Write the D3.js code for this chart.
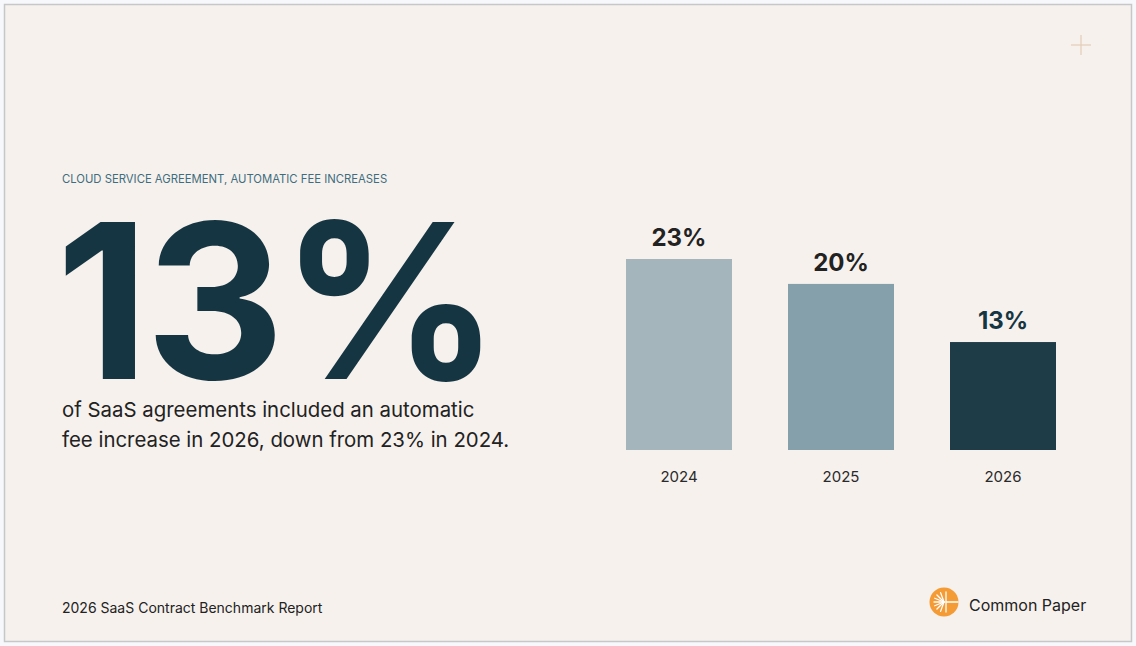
<!DOCTYPE html>
<html>
<head>
<meta charset="utf-8">
<script src="https://cdn.jsdelivr.net/npm/d3@7"></script>
<style>
  html, body { margin: 0; padding: 0; background: #f7f8fb; }
  svg { display: block; font-family: Inter, "Noto Sans", sans-serif; }
</style>
</head>
<body>
<svg id="chart" width="1136" height="646"></svg>
<script>
// chart data
const years = ["2024", "2025", "2026"];
const shares = [23, 20, 13];
const barColors = ["#a4b6bc", "#85a0aa", "#1e3c47"];
const labelColors = ["#222222", "#222222", "#143541"];

const svg = d3.select("#chart");
const width = 1136;
const height = 646;

// panel + frame
svg.append("rect")
    .attr("x", 4.5).attr("y", 4.5)
    .attr("width", width - 9).attr("height", height - 9)
    .attr("fill", "#f6f1ed")
    .attr("stroke", "#c5c7c8")
    .attr("stroke-width", 1.5);

// little plus mark top right
const plus = svg.append("g").attr("stroke", "#e3cdb8").attr("stroke-width", 1.2);
plus.append("line").attr("x1", 1071).attr("x2", 1091).attr("y1", 45).attr("y2", 45);
plus.append("line").attr("x1", 1081).attr("x2", 1081).attr("y1", 35).attr("y2", 55);

// left side text
svg.append("text")
    .attr("x", 62).attr("y", 183)
    .attr("fill", "#3e6d7e")
    .style("font-size", "11.3px")
    .text("CLOUD SERVICE AGREEMENT, AUTOMATIC FEE INCREASES");

// big headline number (latest year)
svg.append("text")
    .attr("x", 56).attr("y", 379)
    .attr("fill", "#143541")
    .style("font-size", "216px")
    .style("font-weight", 700)
    .style("letter-spacing", "-4px")
    .text(shares[2] + "%");

const body = svg.append("text")
    .attr("fill", "#222222")
    .style("font-size", "20.4px");
body.append("tspan").attr("x", 62).attr("y", 417).text("of SaaS agreements included an automatic");
body.append("tspan").attr("x", 62).attr("y", 447).text("fee increase in 2026, down from 23% in 2024.");

// bars
const x = d3.scaleBand()
    .domain(years)
    .range([626, 1056])
    .paddingInner(0.3457)
    .paddingOuter(0);

const y = d3.scaleLinear()
    .domain([0, 23])
    .range([450, 259]);

const rows = years.map((d, i) => ({ year: d, value: shares[i], i }));

svg.append("g")
    .selectAll("rect")
    .data(rows)
    .join("rect")
    .attr("x", d => x(d.year))
    .attr("y", d => y(d.value))
    .attr("width", x.bandwidth())
    .attr("height", d => y(0) - y(d.value))
    .attr("fill", d => barColors[d.i]);

svg.append("g")
    .selectAll("text")
    .data(rows)
    .join("text")
    .attr("x", d => x(d.year) + x.bandwidth() / 2)
    .attr("y", d => y(d.value) - 13)
    .attr("text-anchor", "middle")
    .attr("fill", d => labelColors[d.i])
    .style("font-size", "24px")
    .style("font-weight", 700)
    .text(d => d.value + "%");

// x axis, labels only
const xAxis = svg.append("g")
    .attr("transform", "translate(0,450)")
    .call(d3.axisBottom(x).tickSize(0).tickPadding(21));
xAxis.select(".domain").remove();
xAxis.selectAll("text")
    .attr("fill", "#2a2a2a")
    .style("font-family", "Inter, sans-serif")
    .style("font-size", "15px");

// footer
svg.append("text")
    .attr("x", 62).attr("y", 613)
    .attr("fill", "#222222")
    .style("font-size", "14px")
    .text("2026 SaaS Contract Benchmark Report");

const logo = svg.append("g").attr("transform", "translate(944,602)");
logo.append("circle").attr("r", 14.5).attr("fill", "#f59b35");
const rays = logo.append("g").attr("stroke", "#ffffff").attr("stroke-width", 1.3).attr("stroke-linecap", "round");
rays.append("line").attr("x1", 2).attr("x2", 2).attr("y1", -10).attr("y2", 10);
rays.append("line").attr("x1", 2).attr("x2", 14).attr("y1", 0).attr("y2", 0);
[-70, -45, -22, 0, 22, 45, 70].forEach(a => {
    const r = a * Math.PI / 180;
    rays.append("line")
        .attr("x1", 0).attr("y1", 0)
        .attr("x2", -10 * Math.cos(r)).attr("y2", -10 * Math.sin(r));
});

svg.append("text")
    .attr("x", 969).attr("y", 611)
    .attr("fill", "#222222")
    .style("font-size", "16px")
    .text("Common Paper");
</script>
</body>
</html>
